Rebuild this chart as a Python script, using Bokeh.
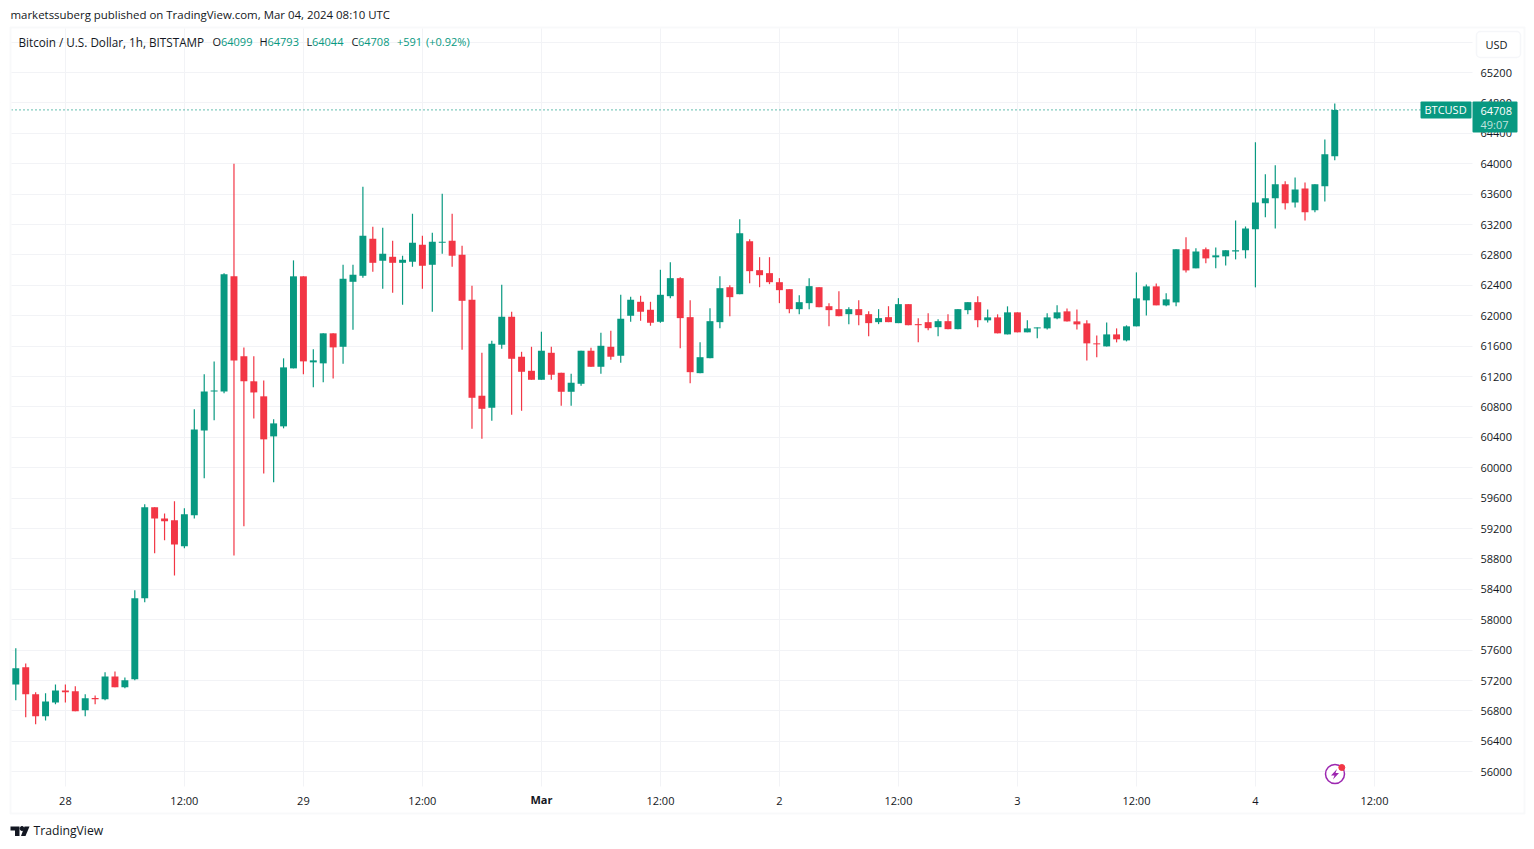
from bokeh.plotting import figure
from bokeh.models import (Range1d, LinearAxis, FixedTicker, Label, BoxAnnotation,
                          PolyAnnotation, ColumnDataSource)
from bokeh.embed import file_html
from bokeh.resources import INLINE

open_ = [57149,57373,57018,56728,56912,57070,57057,56807,56969,56952,57254,57110,57215,58281,59478,59333,59307,58965,59373,60491,
         61004,61004,62518,61465,61136,60939,60412,60544,61307,62518,61386,61373,61768,61591,62446,62525,63012,62723,62775,62696,
         62710,62933,62670,62960,62986,62802,62210,60947,60789,61618,61986,61460,61275,61157,61512,61249,60999,61104,61539,61328,
         61591,61473,61999,62183,62078,61920,62257,62494,61981,61244,61441,61915,62375,62283,62981,62599,62560,62441,62349,62086,
         62165,62375,62125,62086,62020,62086,62020,61915,61981,61902,62152,61889,61915,61849,61928,61823,62073,62178,61939,61978,
         61754,62044,61781,61833,61833,61965,62057,61925,61899,61636,61596,61754,61675,61860,62202,62386,62136,62175,62873,62623,
         62873,62768,62781,62846,62860,63136,63478,63544,63728,63491,63675,63386,63702,64099]
high = [57623,57425,57044,57031,57149,57149,57123,57018,57004,57307,57320,57241,58386,59518,59478,59399,59557,59465,60768,61228,
        61399,62557,64000,61583,61465,61149,60636,61439,62728,62518,61557,61768,61768,62670,62670,63696,63170,63157,62986,62789,
        63341,63052,63091,63604,63341,62920,62394,61512,61670,62407,62052,61525,61591,61789,61591,61249,61236,61539,61578,61775,
        61802,62275,62249,62262,62183,62604,62704,62507,62204,61652,62099,62520,62402,63270,63007,62770,62770,62494,62349,62270,
        62494,62375,62165,62323,62112,62204,62060,62086,62125,62231,62152,61968,62033,61954,62020,62086,62178,62257,62083,62018,
        62123,62044,61939,61846,62031,62136,62096,62083,61939,61741,61912,61833,61873,62570,62412,62425,62294,62873,63031,62886,
        62899,62899,62860,63254,63175,64281,63860,63978,63768,63820,63754,63728,64320,64793]
low = [56939,56715,56623,56675,56886,56912,56794,56728,56886,56939,57110,57097,57202,58228,58873,59044,58583,58939,59333,59860,
       60623,60978,58846,59228,60649,59925,59807,60518,61307,61228,61057,61123,61175,61368,61815,62499,62578,62354,62302,62144,
       62644,62354,62052,62815,62644,61552,60512,60381,60618,61565,60696,60749,61157,61157,61157,60815,60815,61078,61328,61236,
       61420,61381,61920,61933,61868,61907,62231,61573,61112,61244,61441,61836,61994,62283,62428,62375,62415,62165,62033,62020,
       62086,62112,61862,61994,61889,61875,61731,61889,61915,61902,61875,61652,61810,61731,61823,61823,62020,61849,61912,61768,
       61754,61781,61781,61702,61820,61952,61925,61820,61412,61452,61596,61649,61662,61860,62004,62136,62123,62123,62570,62623,
       62689,62623,62662,62741,62754,62373,63294,63149,63399,63425,63254,63360,63504,64044]
close = [57360,57018,56728,56925,57070,57044,56794,56965,56952,57254,57110,57202,58281,59478,59333,59294,58991,59386,60504,61004,
         61017,62544,61412,61136,60991,60373,60583,61320,62518,61399,61412,61768,61583,62486,62539,63052,62696,62815,62696,62736,
         62960,62657,62973,62973,62789,62196,60920,60775,61631,61986,61433,61262,61157,61539,61223,60999,61118,61539,61328,61604,
         61460,61960,62210,62052,61907,62275,62494,61968,61257,61454,61928,62362,62244,63086,62586,62533,62441,62336,62086,62178,
         62389,62112,62073,61994,62086,62007,61902,61968,61915,62152,61875,61875,61836,61928,61823,62086,62178,61941,61978,61768,
         62044,61781,61833,61846,61978,62044,61925,61886,61636,61623,61754,61689,61860,62228,62386,62136,62215,62873,62596,62846,
         62754,62794,62860,62860,63149,63491,63544,63728,63478,63662,63360,63728,64123,64708]

x_tick_values = [5, 17, 29, 41, 53, 65, 77, 89, 101, 113, 125, 137]
x_tick_labels = ["28", "12:00", "29", "12:00", "", "12:00", "2", "12:00", "3", "12:00", "4", "12:00"]
y_tick_values = list(range(56000, 65601, 400))

GREEN, RED, INK = "#089981", "#f23645", "#131722"
GRID, EDGE = "#f2f3f6", "#e9eaf0"
FONT = "Open Sans"
W, H = 1532, 847

def xd(px):
    return (px - 15.3) / 9.917

def yd(py):
    return 56000 + (771.2 - py) / 0.076

p = figure(width=W, height=H, output_backend="svg", toolbar_location=None,
           x_range=Range1d(xd(0), xd(W)), y_range=Range1d(yd(H), yd(0)),
           min_border_left=0, min_border_right=0, min_border_top=0, min_border_bottom=0,
           x_axis_location=None, y_axis_location=None, outline_line_color=None,
           background_fill_color="white", border_fill_color="white")

xaxis = LinearAxis(ticker=FixedTicker(ticks=x_tick_values), fixed_location=yd(786),
                   major_label_overrides={float(a): b for a, b in zip(x_tick_values, x_tick_labels)})
yaxis = LinearAxis(ticker=FixedTicker(ticks=y_tick_values), fixed_location=xd(1472),
                   major_label_overrides={65600: ""})
for ax in (xaxis, yaxis):
    ax.axis_line_color = None
    ax.major_tick_line_color = None
    ax.minor_tick_line_color = None
    ax.major_tick_out = 0
    ax.major_tick_in = 0
    ax.major_label_text_font = FONT
    ax.major_label_text_font_size = "11px"
    ax.major_label_text_color = INK
yaxis.major_label_standoff = 8
xaxis.major_label_standoff = 6
p.add_layout(xaxis, "below")
p.add_layout(yaxis, "right")
p.xgrid.ticker = xaxis.ticker
p.ygrid.ticker = yaxis.ticker
p.grid.grid_line_color = GRID
p.grid.grid_line_width = 1

def box(l, r, t, b, **kw):
    p.add_layout(BoxAnnotation(left=xd(l), right=xd(r), top=yd(t), bottom=yd(b), **kw))

# white margins that end the grid at the chart pane; below the axis labels
for l, r, t, b in [(1472, W + 5, -5, H + 5), (-5, W + 5, 786, H + 5), (-5, W + 5, -5, 28), (-5, 11, -5, H + 5)]:
    box(l, r, t, b, fill_color="white", fill_alpha=1, line_alpha=0, line_width=0, level="glyph")

# frame around the chart
box(10, 1524, 27, 813, fill_alpha=0, line_color=EDGE, line_width=2, level="glyph")

idx = list(range(len(close)))
colors = [GREEN if c >= o else RED for o, c in zip(open_, close)]
src = ColumnDataSource(dict(x=idx, o=open_, h=high, l=low, c=close, color=colors,
                            top=[max(a, b) for a, b in zip(open_, close)],
                            bottom=[min(a, b) for a, b in zip(open_, close)]))
p.segment("x", "h", "x", "l", source=src, color="color", line_width=1.2)
p.vbar("x", 0.7, "bottom", "top", source=src, fill_color="color", line_color=None)

def text(px, py, s, color=INK, size="12px", align="left", style="normal", alpha=1.0):
    p.add_layout(Label(x=xd(px), y=yd(py), text=s, text_color=color, text_font=FONT, text_font_size=size,
                       text_align=align, text_baseline="middle", text_font_style=style, text_alpha=alpha))

# last price line
p.segment([xd(11)], [close[-1]], [xd(1420)], [close[-1]], line_color=GREEN, line_dash="1 3", line_width=1.2)

# price tags
box(1420, 1471, 101, 118, fill_color=GREEN, fill_alpha=1, line_color=GREEN, line_width=0, border_radius=1)
box(1472, 1517, 101, 132, fill_color=GREEN, fill_alpha=1, line_color=GREEN, line_width=0, border_radius=1)
text(1424, 109, "BTCUSD", "white", "11px")
text(1480, 110, str(close[-1]), "white", "11px")
text(1480, 124, "49:07", "white", "11px", alpha=0.75)

# currency button
box(1476, 1520, 31, 57, fill_color="white", fill_alpha=1, line_color="#dfe2ea", line_width=1.5, border_radius=4)
text(1485, 43.5, "USD", INK, "11px")

# bold month tick
text(540.9, 798.5, "Mar", INK, "11px", align="center", style="bold")

# header
text(10, 14, "marketssuberg published on TradingView.com, Mar 04, 2024 08:10 UTC", INK, "11.45px")
text(18, 41, "Bitcoin / U.S. Dollar, 1h, BITSTAMP", INK, "11.7px")
for px, s in [(212, "O"), (259, "H"), (306, "L"), (351, "C")]:
    text(px, 41, s, INK, "11px")
for px, s in [(220.5, str(open_[-1])), (267, str(high[-1])), (311.5, str(low[-1])), (357.5, str(close[-1])),
              (396.5, "+591"), (425.5, "(+0.92%)")]:
    text(px, 41, s, GREEN, "11px")

# footer
text(33, 830, "TradingView", INK, "12.2px")
for xs, ys in [([10, 19, 19, 14.5, 14.5, 10], [826, 826, 835.5, 835.5, 830, 830]),
               ([24, 29, 25, 20.5], [826, 826, 835.5, 835.5])]:
    p.add_layout(PolyAnnotation(xs=[xd(v) for v in xs], ys=[yd(v) for v in ys], fill_color=INK, fill_alpha=1,
                                line_alpha=0, level="overlay"))
p.scatter([xd(21.5)], [yd(828)], marker="circle", size=4, fill_color=INK, line_color=INK, level="overlay")

# lightning badge
p.scatter([xd(1334.5)], [yd(773.5)], marker="circle", size=19, fill_color="white", line_color="#9c27b0", line_width=1.5)
p.scatter([xd(1341.3)], [yd(767)], marker="circle", size=6, fill_color=RED, line_color=RED)
p.patch([xd(v) for v in [1336.5, 1330.5, 1334, 1332.5, 1338.5, 1335]],
        [yd(v) for v in [768.5, 775, 775, 779, 772.5, 772.5]], fill_color="#9c27b0", line_color=None)

open("out.html", "w").write(file_html(p, INLINE))
